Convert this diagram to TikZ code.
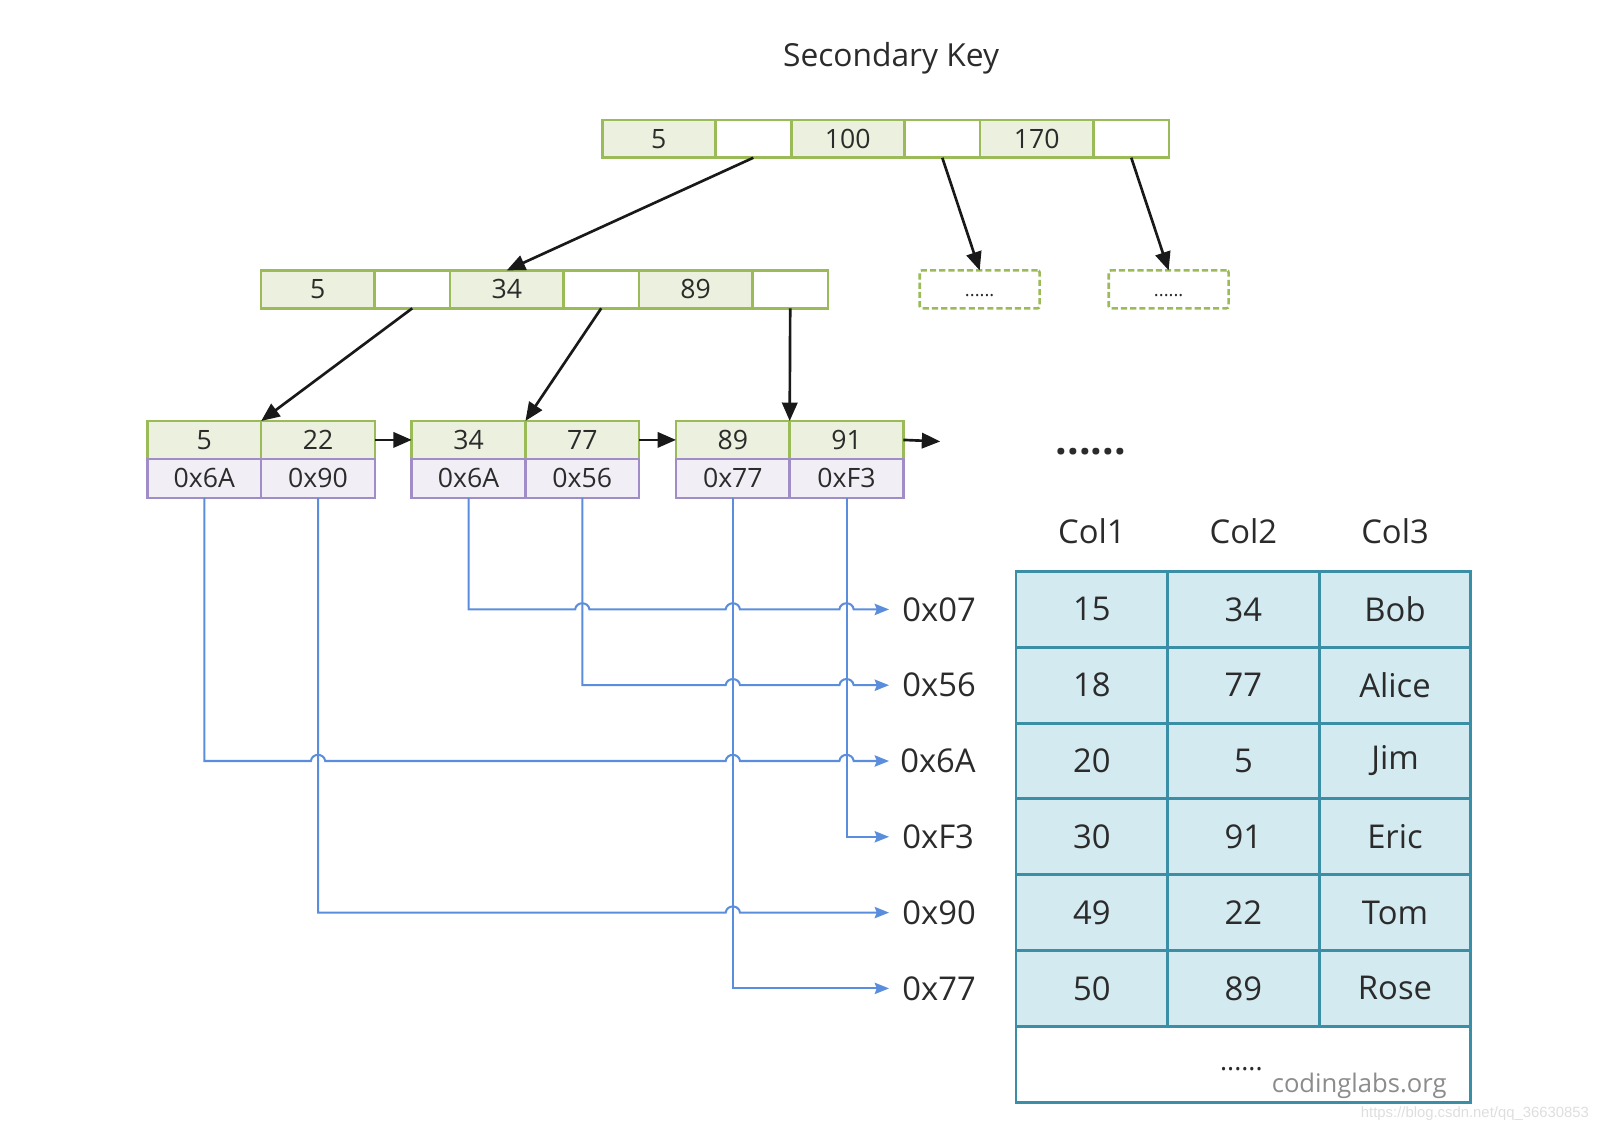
\documentclass[tikz,border=0pt]{standalone}
\usepackage{fontspec}
\setmainfont{Open Sans}
\newfontfamily\wmfont{Liberation Sans}
\usetikzlibrary{arrows.meta,calc}
\definecolor{gborder}{HTML}{9BBB59}
\definecolor{gfill}{HTML}{EBF1DE}
\definecolor{pborder}{HTML}{A08CC6}
\definecolor{pfill}{HTML}{F1EEF6}
\definecolor{tborder}{HTML}{3A8EA6}
\definecolor{tfill}{HTML}{D3EAF0}
\definecolor{bline}{HTML}{5A8EDC}
\definecolor{txt}{HTML}{2B2B2B}
\begin{document}
\begin{tikzpicture}[x=1pt,y=-1pt,
  every node/.style={text=txt, inner sep=0pt, outer sep=0pt},
  cellbase/.style={draw, line width=2.5pt, minimum height=37pt, font=\fontsize{26}{26}\selectfont, anchor=west},
  keycell/.style={cellbase, draw=gborder, fill=gfill, minimum width=110.5pt},
  ptrcell/.style={cellbase, draw=gborder, fill=white, minimum width=74pt},
  leafkey/.style={cellbase, draw=gborder, fill=gfill, minimum width=111pt},
  leafptr/.style={cellbase, draw=pborder, fill=pfill, minimum width=111pt, minimum height=38pt},
  dashbox/.style={draw=gborder, line width=2.5pt, dash pattern=on 6pt off 3pt, rounded corners=2pt,
     minimum width=117pt, minimum height=37pt, font=\fontsize{18}{18}\selectfont, text height=14pt, text depth=0pt},
  blackarrow/.style={line width=2.6pt, draw=black!90, -{Triangle[length=18pt,width=15pt]}},
  blueline/.style={draw=bline, line width=2pt, -{Stealth[length=14pt,width=11pt,inset=2pt]}, shorten >=13pt},
  tcell/.style={draw=tborder, fill=tfill, line width=2.8pt, minimum width=148pt, minimum height=74pt,
     font=\fontsize{32}{32}\selectfont, anchor=west},
  lab/.style={font=\fontsize{32}{32}\selectfont, anchor=west},
  head/.style={font=\fontsize{32}{32}\selectfont}
]
\useasboundingbox (0,0) rectangle (1568,1106);

% title
\node[font=\fontsize{31}{31}\selectfont] (title) at (870,57) {Secondary Key};

% top node
\node[keycell] (t1) at (588,135.5) {5};
\node[ptrcell] (t2) at (t1.east) {};
\node[keycell] (t3) at (t2.east) {100};
\node[ptrcell] (t4) at (t3.east) {};
\node[keycell] (t5) at (t4.east) {170};
\node[ptrcell] (t6) at (t5.east) {};

% middle node
\node[keycell] (m1) at (255,282.5) {5};
\node[ptrcell] (m2) at (m1.east) {};
\node[keycell] (m3) at (m2.east) {34};
\node[ptrcell] (m4) at (m3.east) {};
\node[keycell] (m5) at (m4.east) {89};
\node[ptrcell] (m6) at (m5.east) {};

% dashed boxes
\node[dashbox] (d1) at (956.5,282.5) {......};
\node[dashbox] (d2) at (1141,282.5) {......};

% leaves
\node[leafkey] (l1a) at (144,429.5) {5};
\node[leafkey] (l1b) at (l1a.east) {22};
\node[leafptr] (l1c) at (144,467) {0x6A};
\node[leafptr] (l1d) at (l1c.east) {0x90};

\node[leafkey] (l2a) at (402,429.5) {34};
\node[leafkey] (l2b) at (l2a.east) {77};
\node[leafptr] (l2c) at (402,467) {0x6A};
\node[leafptr] (l2d) at (l2c.east) {0x56};

\node[leafkey] (l3a) at (660,429.5) {89};
\node[leafkey] (l3b) at (l3a.east) {91};
\node[leafptr] (l3c) at (660,467) {0x77};
\node[leafptr] (l3d) at (l3c.east) {0xF3};

\coordinate (leafend) at (918,431);

% black arrows
\draw[blackarrow] (t2.south) -- (m3.north);
\draw[blackarrow] (t4.south) -- (d1.north);
\draw[blackarrow] (t6.south) -- (d2.north);
\draw[blackarrow] (m2.south) -- (l1a.north east);
\draw[blackarrow] (m4.south) -- (l2a.north east);
\draw[blackarrow] (m6.south) -- (l3a.north east);
\draw[blackarrow] (l1b.east) -- (l2a.west);
\draw[blackarrow] (l2b.east) -- (l3a.west);
\draw[blackarrow] (l3b.east) -- (leafend);

% big dots
\node[font=\fontsize{40}{40}\selectfont\bfseries] (bigdots) at (1065,441) {......};

% column headers
\node[head] (h1) at (1066,519) {Col1};
\node[head] (h2) at (1214,519) {Col2};
\node[head] (h3) at (1362,519) {Col3};

% table
\node[tcell] (r1a) at (992,595) {15};
\node[tcell] (r1b) at (r1a.east) {34};
\node[tcell] (r1c) at (r1b.east) {Bob};
\node[tcell] (r2a) at (992,669) {18};
\node[tcell] (r2b) at (r2a.east) {77};
\node[tcell] (r2c) at (r2b.east) {Alice};
\node[tcell] (r3a) at (992,743) {20};
\node[tcell] (r3b) at (r3a.east) {5};
\node[tcell] (r3c) at (r3b.east) {Jim};
\node[tcell] (r4a) at (992,817) {30};
\node[tcell] (r4b) at (r4a.east) {91};
\node[tcell] (r4c) at (r4b.east) {Eric};
\node[tcell] (r5a) at (992,891) {49};
\node[tcell] (r5b) at (r5a.east) {22};
\node[tcell] (r5c) at (r5b.east) {Tom};
\node[tcell] (r6a) at (992,965) {50};
\node[tcell] (r6b) at (r6a.east) {89};
\node[tcell] (r6c) at (r6b.east) {Rose};
\node[draw=tborder, fill=white, line width=2.8pt, minimum width=444pt, minimum height=74pt, anchor=north west] (rlast) at (992,1002) {};
\node[font=\fontsize{26}{26}\selectfont] (tdots) at (1212,1044) {......};
\node[font=\fontsize{25}{25}\selectfont, text=black!45] (cl) at (1327,1060) {codinglabs.org};
\node[font=\wmfont\fontsize{14.5}{14.5}\selectfont, text=black!13] (wm) at (1440,1087) {https://blog.csdn.net/qq\_36630853};

% address labels
\node[lab] (a07) at (881,595) {0x07};
\node[lab] (a56) at (881,669) {0x56};
\node[lab] (a6A) at (879,743) {0x6A};
\node[lab] (aF3) at (881,817) {0xF3};
\node[lab] (a90) at (881,891) {0x90};
\node[lab] (a77) at (881,965) {0x77};

% blue pointer lines (horizontal segments hop over verticals)
\draw[blueline] (l2c.south) -- (457.5,595) -- (561.5,595) .. controls (562.5,587) and (574.5,587) .. (575.5,595)
   -- (708.5,595) .. controls (709.5,587) and (721.5,587) .. (722.5,595)
   -- (819.5,595) .. controls (820.5,587) and (832.5,587) .. (833.5,595) -- (a07.west);
\draw[blueline] (l2d.south) -- (568.5,669)
   -- (708.5,669) .. controls (709.5,661) and (721.5,661) .. (722.5,669)
   -- (819.5,669) .. controls (820.5,661) and (832.5,661) .. (833.5,669) -- (a56.west);
\draw[blueline] (l1c.south) -- (199.5,743)
   -- (303.5,743) .. controls (304.5,735) and (316.5,735) .. (317.5,743)
   -- (708.5,743) .. controls (709.5,735) and (721.5,735) .. (722.5,743)
   -- (819.5,743) .. controls (820.5,735) and (832.5,735) .. (833.5,743) -- ([xshift=2pt]a6A.west);
\draw[blueline] (l3d.south) -- (826.5,817) -- (aF3.west);
\draw[blueline] (l1d.south) -- (310.5,891)
   -- (708.5,891) .. controls (709.5,883) and (721.5,883) .. (722.5,891) -- (a90.west);
\draw[blueline] (l3c.south) -- (715.5,965) -- (a77.west);
\end{tikzpicture}
\end{document}
